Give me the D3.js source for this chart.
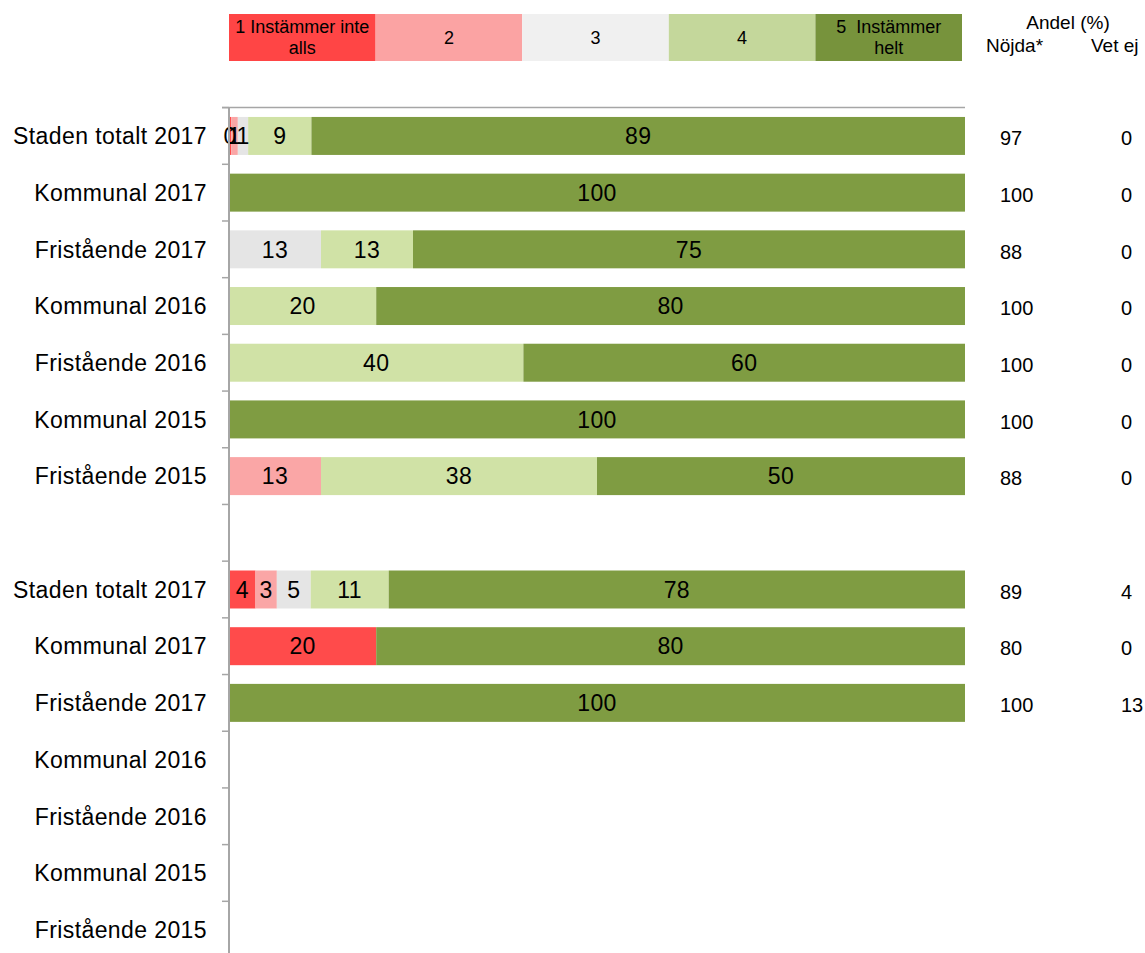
<!DOCTYPE html>
<html>
<head>
<meta charset="utf-8">
<script src="https://cdn.jsdelivr.net/npm/d3@7"></script>
<style>
  body { margin: 0; background: #fff; }
  text { font-family: "Liberation Sans", Arial, sans-serif; fill: #000; }
</style>
</head>
<body>
<svg id="chart" width="1145" height="953"></svg>
<script>
// kategorier (tom rad mellan de två grupperna)
const categories = [
  'Staden totalt 2017', 'Kommunal 2017', 'Fristående 2017', 'Kommunal 2016',
  'Fristående 2016', 'Kommunal 2015', 'Fristående 2015', '',
  'Staden totalt 2017', 'Kommunal 2017', 'Fristående 2017', 'Kommunal 2016',
  'Fristående 2016', 'Kommunal 2015', 'Fristående 2015'
];
const levels = ['1 Instämmer inte alls', '2', '3', '4', '5  Instämmer helt'];

// andel per svarsalternativ (1..5), null = inga data
const level1 = [0.3, 0, 0, 0, 0, 0, 0, null, 3.6, 20, 0, null, null, null, null];
const level2 = [0.9, 0, 0, 0, 0, 0, 12.5, null, 2.9, 0, 0, null, null, null, null];
const level3 = [1.4, 0, 12.5, 0, 0, 0, 0, null, 4.6, 0, 0, null, null, null, null];
const level4 = [8.6, 0, 12.5, 20, 40, 0, 37.5, null, 10.6, 0, 0, null, null, null, null];
const level5 = [88.8, 100, 75, 80, 60, 100, 50, null, 78.3, 80, 100, null, null, null, null];

const nojda = [97, 100, 88, 100, 100, 100, 88, null, 89, 80, 100, null, null, null, null];
const vetEj = [0, 0, 0, 0, 0, 0, 0, null, 4, 0, 13, null, null, null, null];

const barColors = ['#ff4b4b', '#faa6a6', '#e5e5e5', '#d0e2a6', '#7f9c42'];
const legendColors = ['#ff4545', '#fba3a3', '#f0f0f0', '#c4d79b', '#77933c'];

const svg = d3.select('#chart');
const series = [level1, level2, level3, level4, level5];

const x = d3.scaleLinear().domain([0, 100]).range([229, 965]);
const y = d3.scaleBand().domain(d3.range(categories.length))
            .range([107.6, 958]).paddingInner(0.33).paddingOuter(0.165);

// staplade värden
const segs = categories.map((c, i) => {
  let acc = 0;
  return series.map((s, k) => {
    const v = s[i];
    const seg = {row: i, level: k, v: v, x0: acc, x1: acc + (v || 0)};
    acc += v || 0;
    return seg;
  }).filter(d => d.v != null && d.v > 0);
}).flat();

svg.append('g').selectAll('rect').data(segs).enter().append('rect')
   .attr('x', d => x(d.x0))
   .attr('y', d => y(d.row))
   .attr('width', d => x(d.x1) - x(d.x0))
   .attr('height', y.bandwidth())
   .attr('fill', d => barColors[d.level]);

svg.append('g').selectAll('text').data(segs).enter().append('text')
   .attr('x', d => (x(d.x0) + x(d.x1)) / 2)
   .attr('y', d => y(d.row) + y.bandwidth() / 2)
   .attr('dy', '0.36em')
   .attr('text-anchor', 'middle')
   .style('font-size', '23px')
   .style('letter-spacing', '0.4px')
   .text(d => Math.round(d.v));

// axel
const step = y.step();
const y0 = y.range()[0];
svg.append('line')
   .attr('x1', 222).attr('x2', 965).attr('y1', y0).attr('y2', y0)
   .attr('stroke', '#a6a6a6').attr('stroke-width', 1.5);
svg.append('line')
   .attr('x1', 229).attr('x2', 229).attr('y1', y0).attr('y2', 953)
   .attr('stroke', '#a6a6a6').attr('stroke-width', 2);
svg.append('g').selectAll('line').data(d3.range(categories.length + 1)).enter().append('line')
   .attr('x1', 222).attr('x2', 229)
   .attr('y1', d => y0 + d * step).attr('y2', d => y0 + d * step)
   .attr('stroke', '#a6a6a6').attr('stroke-width', 1.5);

svg.append('g').selectAll('text').data(categories).enter().append('text')
   .attr('x', 207)
   .attr('y', (d, i) => y(i) + y.bandwidth() / 2)
   .attr('dy', '0.36em')
   .attr('text-anchor', 'end')
   .style('font-size', '23px')
   .style('letter-spacing', '0.4px')
   .text(d => d);

// högra kolumner
nojda.forEach((d, i) => {
  if (d == null) return;
  svg.append('text').attr('x', 1000).attr('y', y(i) + y.bandwidth() / 2 + 2)
     .attr('dy', '0.36em').style('font-size', '20px').text(d);
  svg.append('text').attr('x', 1121).attr('y', y(i) + y.bandwidth() / 2 + 2)
     .attr('dy', '0.36em').style('font-size', '20px').text(vetEj[i]);
});

svg.append('text').attr('x', 1068).attr('y', 29).attr('text-anchor', 'middle')
   .style('font-size', '19px').text('Andel (%)');
svg.append('text').attr('x', 986).attr('y', 52)
   .style('font-size', '19px').text('Nöjda*');
svg.append('text').attr('x', 1091).attr('y', 52)
   .style('font-size', '19px').text('Vet ej');

// legend
const lx = d3.scaleBand().domain(d3.range(levels.length)).range([229, 962]);
const lg = svg.append('g').selectAll('g').data(levels).enter().append('g');
lg.append('rect')
  .attr('x', (d, i) => lx(i)).attr('y', 14)
  .attr('width', lx.bandwidth()).attr('height', 47)
  .attr('fill', (d, i) => legendColors[i]);
const legendLines = [['1 Instämmer inte', 'alls'], ['2'], ['3'], ['4'], ['5  Instämmer', 'helt']];
lg.each(function(d, i) {
  const lines = legendLines[i];
  const cy = 37.5;
  lines.forEach((t, j) => {
    d3.select(this).append('text')
      .attr('x', lx(i) + lx.bandwidth() / 2)
      .attr('y', cy + (j - (lines.length - 1) / 2) * 21)
      .attr('dy', '0.36em')
      .attr('text-anchor', 'middle')
      .style('font-size', '18px')
      .style('white-space', 'pre')
      .text(t);
  });
});
</script>
</body>
</html>
